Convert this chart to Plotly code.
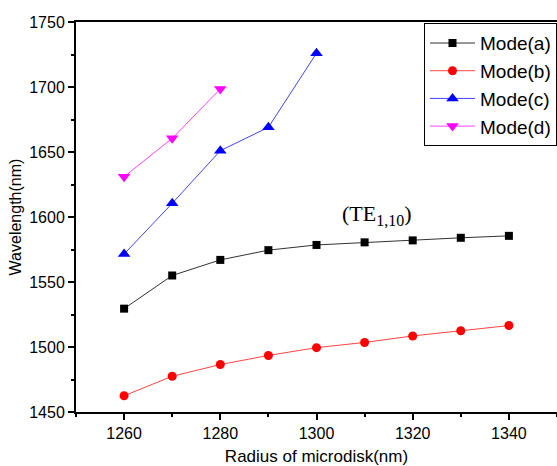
import plotly.graph_objects as go

radius = [1260, 1270, 1280, 1290, 1300, 1310, 1320, 1330, 1340]
mode_a = [1529.5, 1555, 1567, 1574.5, 1578.5, 1580.5, 1582, 1584, 1585.5]
mode_b = [1462.5, 1477.5, 1486.5, 1493.5, 1499.5, 1503.5, 1508.5, 1512.5, 1516.5]
radius_c = [1260, 1270, 1280, 1290, 1300]
mode_c = [1571.5, 1610.5, 1651, 1669, 1726]
radius_d = [1260, 1270, 1280]
mode_d = [1631, 1660.5, 1698.5]

fig = go.Figure()
series = [
    ("Mode(a)", radius, mode_a, "#000000", "#333333", "square", 8),
    ("Mode(b)", radius, mode_b, "#ff0000", "#ff4444", "circle", 9),
    ("Mode(c)", radius_c, mode_c, "#0000ff", "#4444ff", "triangle-up", 11),
    ("Mode(d)", radius_d, mode_d, "#ff00ff", "#ff44ff", "triangle-down", 11),
]
for name, xs, ys, mc, lc, sym, sz in series:
    fig.add_trace(go.Scatter(
        x=xs, y=ys, name=name, mode="lines+markers",
        line=dict(color=lc, width=1),
        marker=dict(symbol=sym, size=sz, color=mc),
    ))

fig.add_annotation(
    x=1312.5, y=1601.5, xref="x", yref="y", showarrow=False,
    text="(TE<sub><span style='font-size:16px'>1,10</span></sub>)",
    font=dict(family="Liberation Serif", size=22, color="black"),
)

axis_common = dict(
    showline=True, linecolor="black", linewidth=2,
    ticks="outside", ticklen=6, tickwidth=1.5, tickcolor="black",
    showgrid=False, zeroline=False,
    tickfont=dict(family="Liberation Sans", size=16, color="black"),
)
fig.update_xaxes(
    range=[1250, 1350], tickvals=[1260, 1280, 1300, 1320, 1340],
    minor=dict(ticks="outside", ticklen=3, tickcolor="black", dtick=10, tick0=1250, tickwidth=1.5),
    mirror=True,
    title=dict(text="Radius of microdisk(nm)", font=dict(family="Liberation Sans", size=17, color="black"), standoff=12),
    **axis_common,
)
fig.update_yaxes(
    range=[1450, 1750], dtick=50, tick0=1450,
    minor=dict(ticks="outside", ticklen=3, tickcolor="black", dtick=25, tick0=1450, tickwidth=1.5),
    title=dict(text="Wavelength(nm)", font=dict(family="Liberation Sans", size=16, color="black"), standoff=4),
    **axis_common,
)
fig.update_layout(
    width=557, height=466,
    margin=dict(l=76, r=0, t=22, b=54),
    plot_bgcolor="white", paper_bgcolor="white",
    legend=dict(
        x=0.7235, y=0.997, xanchor="left", yanchor="top",
        bordercolor="black", borderwidth=1, bgcolor="white",
        font=dict(family="Liberation Sans", size=19, color="black"),
        tracegroupgap=0, itemwidth=45,
    ),
)
fig.write_html("out.html", config={"displayModeBar": False},
               post_script="document.body.style.margin='0';")
